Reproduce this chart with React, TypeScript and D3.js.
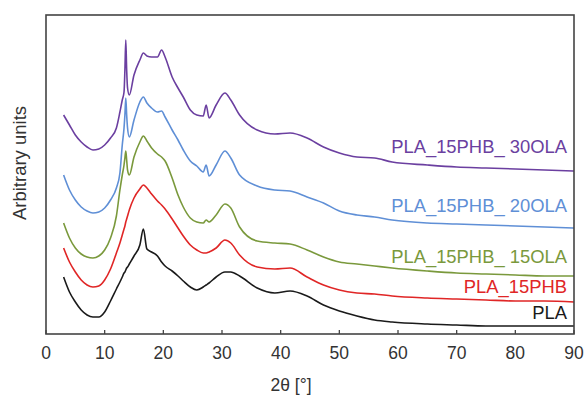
import React from "react";
import * as d3 from "d3";

const angles = [3,4,5,6,7,8,9,10,11,12,12.6,13,13.3,13.45,13.6,13.75,13.9,14.2,15,16,16.6,17.2,18,19,19.7,20.3,21.5,22.5,23.4,24.6,25.7,26.8,27.3,27.8,29,30.5,31.5,33,36,39,41.6,44.5,47.3,50,53,56,59,65,70,75,80,85,90];

const pla = [57,42,32,24,19,17,17,22,33,45, 52,57,61,62,64,66,67,70, 78,89,105,85,82,78,72,68, 63,58,53,47,44,47,49,51, 57,62,62,58,46,41,43,38, 29,23,18,14,12,10,9,8,8,8,8];
const pla15phb = [86,72,62,54,49,47,48,54,65,81, 91,99,105,108,112,115,118,124, 136,145,149,146,140,133,129,125, 115,106,98,89,84,81,81,82, 86,94,91,79,67,65,66,57, 49,44,41,40,38,36,35,34,33,33,32];
const pla15ola = [111,96,86,80,77,76,78,84,96,118, 144,159,169,176,183,174,164,159, 177,192,198,193,186,180,177,173, 156,139,127,116,112,111,114,112, 119,130,126,107,93,91,90,84, 77,72,70,68,66,63,61,60,59,58,58];
const pla20ola = [159,144,134,127,123,121,122,126,134,146, 161,189,206,219,236,219,206,197, 214,232,237,231,226,222,223,217, 204,194,184,173,168,162,169,158, 169,183,176,159,148,144,143,137, 131,123,119,117,114,111,110,109,108,107,106];
const pla30ola = [219,209,199,192,187,184,185,189,196,206, 222,234,242,264,294,264,246,239, 259,274,281,278,277,277,284,277, 257,246,237,224,219,218,229,216, 229,241,234,219,204,200,201,196, 187,181,177,176,172,169,167,166,165,164,163];

const seriesNames = ["PLA", "PLA_15PHB", "PLA_15PHB_ 15OLA", "PLA_15PHB_ 20OLA", "PLA_15PHB_ 30OLA"];
const seriesValues = [pla, pla15phb, pla15ola, pla20ola, pla30ola];
const seriesColors = ["#1a1a1a", "#e02626", "#7a993c", "#5f8fd6", "#6b3fa0"];
const labelValues = [15, 41, 71, 122, 181];

const xTicks = [0,10,20,30,40,50,60,70,80,90];

const W = 585, H = 398;
const M = { left: 46, right: 574, top: 15, bottom: 334 };

export default function App() {
  const x = d3.scaleLinear().domain([0, 90]).range([M.left, M.right]);
  const y = d3.scaleLinear().domain([0, 319]).range([M.bottom, M.top]);
  const line = d3.line<[number, number]>()
    .x(d => x(d[0]))
    .y(d => y(d[1]))
    .curve(d3.curveMonotoneX);
  const font = "'Liberation Sans', Arial, sans-serif";
  return (
    <div style={{ position: "fixed", left: 0, top: 0 }}>
      <svg width={W} height={H} style={{ display: "block", background: "#fff" }}>
        {seriesValues.map((vals, i) => (
          <path key={i}
            d={line(angles.map((a, j) => [a, vals[j]] as [number, number])) || ""}
            fill="none" stroke={seriesColors[i]} strokeWidth={1.6} strokeLinejoin="round" />
        ))}
        {seriesNames.map((n, i) => (
          <text key={n} x={567} y={y(labelValues[i])} textAnchor="end"
            fontFamily={font} fontSize={18.4} fill={seriesColors[i]}>{n}</text>
        ))}
        <rect x={M.left} y={M.top} width={M.right - M.left} height={M.bottom - M.top}
          fill="none" stroke="#444" strokeWidth={1.6} />
        {xTicks.map(t => (
          <g key={t}>
            <line x1={x(t)} x2={x(t)} y1={M.bottom} y2={M.bottom - 4} stroke="#444" strokeWidth={1.3} />
            <text x={x(t)} y={359} textAnchor="middle" fontFamily={font} fontSize={17.5} fill="#333">{t}</text>
          </g>
        ))}
        <text x={291} y={391} textAnchor="middle" fontFamily={font} fontSize={17.5} fill="#333">2θ [°]</text>
        <text transform="translate(26,163) rotate(-90)" textAnchor="middle" fontFamily={font} fontSize={18.5} fill="#333">Arbitrary units</text>
      </svg>
    </div>
  );
}
